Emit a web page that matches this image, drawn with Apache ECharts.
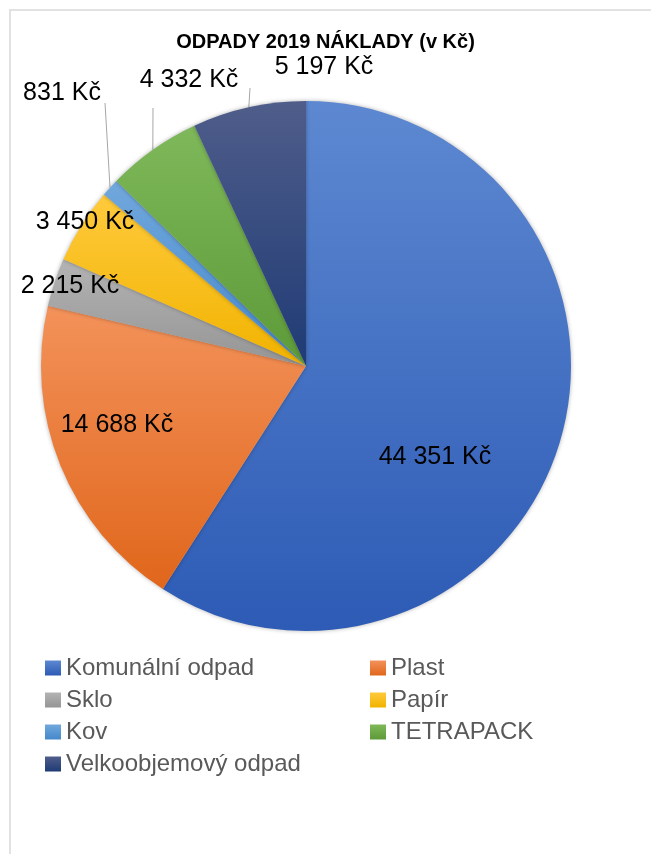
<!DOCTYPE html>
<html><head><meta charset="utf-8">
<script src="https://cdn.jsdelivr.net/npm/echarts@6/dist/echarts.min.js"></script>
<style>
html,body{margin:0;padding:0;width:651px;height:854px;overflow:hidden;background:#fff;}
#frame{position:absolute;left:9px;top:9px;width:1000px;height:1000px;border:2px solid #e2e2e2;}
#chart{position:absolute;left:0;top:0;width:651px;height:854px;}
</style></head><body>
<div id="frame"></div><div id="chart"></div>
<script>
// ---- data ----
const chartTitle = 'ODPADY 2019 NÁKLADY (v Kč)';
const categories = ['Komunální odpad', 'Plast', 'Sklo', 'Papír', 'Kov', 'TETRAPACK', 'Velkoobjemový odpad'];
const values = [44351, 14688, 2215, 3450, 831, 4332, 5197];
const legendLeftItems = ['Komunální odpad', 'Sklo', 'Kov', 'Velkoobjemový odpad'];
const legendRightItems = ['Plast', 'Papír', 'TETRAPACK'];

// ---- styles ----
const FONT = "'Liberation Sans', Arial, sans-serif";
const gradients = [
  ['#5d88d1', '#2d5bb5'],
  ['#f3925a', '#e0661b'],
  ['#b3b3b3', '#959595'],
  ['#ffca3c', '#f1b300'],
  ['#71a8dd', '#4588cb'],
  ['#7eb85a', '#5d9a38'],
  ['#4f5d8a', '#1f3b75']
];
const labelInside = [true, true, false, false, false, false, false];
const showLeader = [false, false, false, false, true, true, true];
const labelCenter = [[435, 457], [117, 425], [70, 286], [85, 222], [62, 93], [189, 80], [324, 67]];
const leaderEnd = [null, null, null, null, [43, 10], [-36, 28], [-74, 21]];

function fmt(v) {
  return String(v).replace(/\B(?=(\d{3})+(?!\d))/g, ' ') + ' Kč';
}
function grad(c) {
  return new echarts.graphic.LinearGradient(0, 0, 0, 1, [
    { offset: 0, color: c[0] }, { offset: 1, color: c[1] }
  ]);
}

const pieData = categories.map((name, i) => ({
  name: name,
  value: values[i],
  itemStyle: { color: grad(gradients[i]) },
  label: { position: labelInside[i] ? 'inside' : 'outside' },
  labelLine: { show: showLeader[i] }
}));

const legendBase = {
  orient: 'vertical', padding: 0, itemWidth: 16, itemHeight: 15, itemGap: 6,
  icon: 'rect', selectedMode: false,
  textStyle: { fontFamily: FONT, fontSize: 24, color: '#595959', lineHeight: 26 }
};

const chart = echarts.init(document.getElementById('chart'), null, { renderer: 'canvas' });
chart.setOption({
  animation: false,
  backgroundColor: 'transparent',
  title: {
    text: chartTitle, left: 'center', top: 32, padding: 0,
    textStyle: { fontFamily: FONT, fontSize: 20, fontWeight: 'bold', color: '#000' }
  },
  legend: [
    Object.assign({}, legendBase, { left: 45, top: 655, data: legendLeftItems }),
    Object.assign({}, legendBase, { left: 370, top: 655, data: legendRightItems })
  ],
  series: [{
    type: 'pie',
    center: [306, 366],
    radius: 265,
    startAngle: 90,
    clockwise: true,
    avoidLabelOverlap: false,
    emphasis: { disabled: true },
    itemStyle: { borderWidth: 0, shadowBlur: 4, shadowColor: 'rgba(0,0,0,0.3)' },
    label: {
      fontFamily: FONT, fontSize: 25, color: '#000',
      formatter: p => fmt(p.value)
    },
    labelLine: { lineStyle: { color: '#a6a6a6', width: 1 }, length: 10, length2: 10 },
    labelLayout: function (params) {
      const i = params.dataIndex;
      const c = labelCenter[i];
      const out = { x: c[0], y: c[1], align: 'center', verticalAlign: 'middle' };
      if (leaderEnd[i] && params.labelLinePoints) {
        const a = params.labelLinePoints[0];
        out.labelLinePoints = [[a[0], a[1]], [c[0] + leaderEnd[i][0], c[1] + leaderEnd[i][1]]];
      }
      return out;
    },
    data: pieData
  }]
});
</script>
</body></html>
